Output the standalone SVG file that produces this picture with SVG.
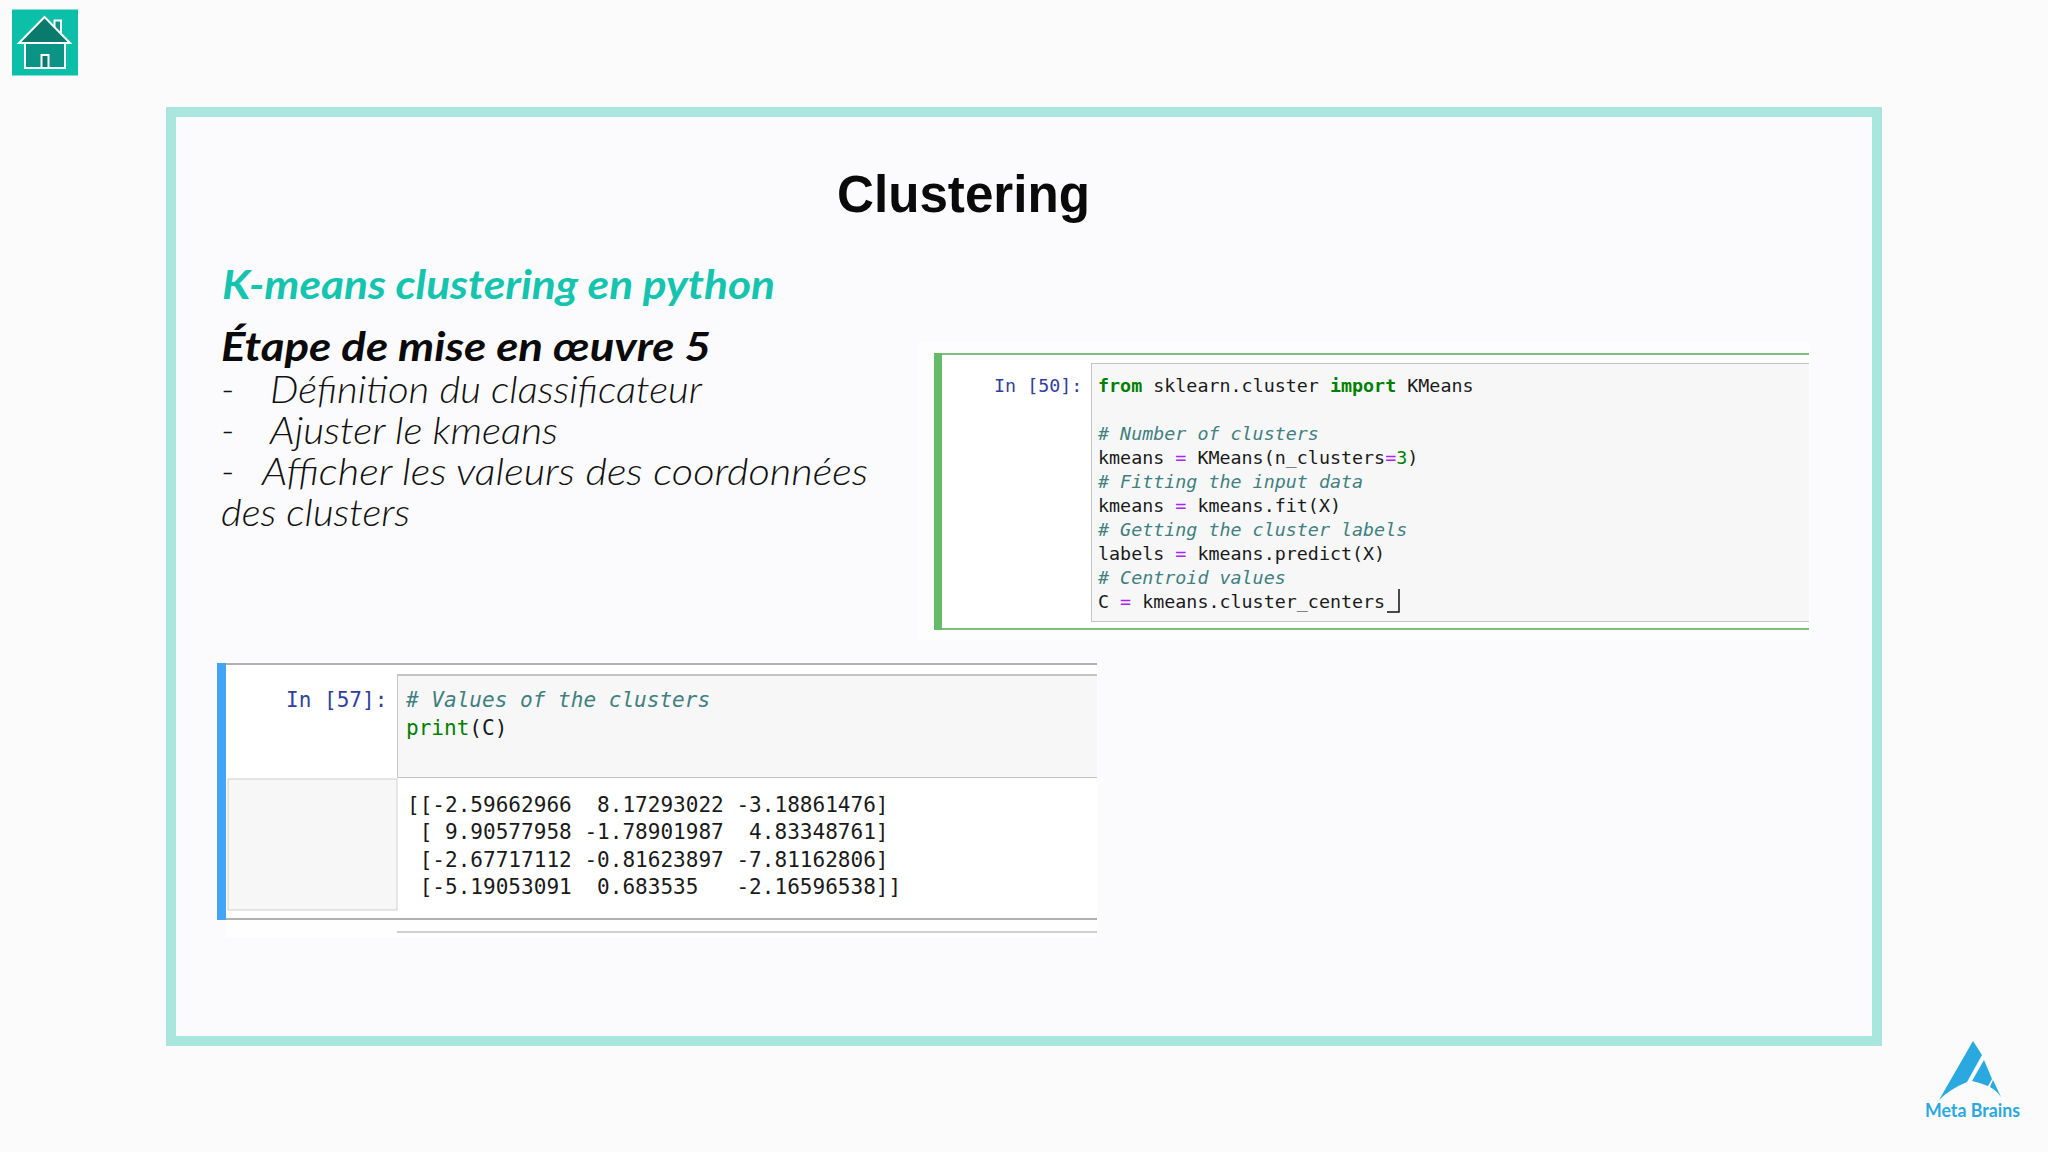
<svg xmlns="http://www.w3.org/2000/svg" width="2048" height="1152" viewBox="0 0 2048 1152">
<style>
text{white-space:pre}
.m{font-family:"DejaVu Sans Mono","Liberation Mono",monospace;fill:#1a1a1a}
.a{font-size:18.350px}
.b{font-size:21.050px}
.c{fill:#408080;font-style:italic}
.k{fill:#008000;font-weight:bold}
.o{fill:#aa22ff}
.n{fill:#008000}
.p{fill:#303f9f}
.g{font-family:Lato,"Open Sans",sans-serif;font-style:italic}
.l{font-size:38px;font-weight:300;fill:#111}
.w{fill:#fff}
.bx{fill:#f7f7f8}
.ln{fill:#c4c4c4}
</style>
<rect width="2048" height="1152" fill="#fbfbfc"/>
<g id="frame"><rect x="171" y="112" width="1706" height="929" fill="#fbfbfd" stroke="#a8e6de" stroke-width="10"/></g>
<g id="home">
<rect x="12" y="9.500" width="66" height="66" fill="#0bbfa8"/>
<rect x="25" y="43" width="40" height="25" fill="#0a9485" stroke="#fff" stroke-width="2"/>
<rect x="54.500" y="20.500" width="6.500" height="12" fill="#0a9485" stroke="#fff" stroke-width="2"/>
<path d="M44.500 17L70 43H19Z" fill="#0a7a6c" stroke="#fff" stroke-width="2"/>
<rect x="41.500" y="55" width="7" height="13" fill="#0a7a6c" stroke="#fff" stroke-width="2"/>
</g>
<g id="logo">
<path d="M1973 1041L1982 1055L1967 1082Q1950 1089 1939 1100Z" fill="#2aa8e0"/>
<path d="M1984 1060L1992 1079L1988 1086Q1981 1083 1972 1081Z" fill="#2aa8e0"/>
<path d="M1993 1080L2001 1097Q1997 1091 1990 1087Z" fill="#2aa8e0"/>
<text x="1925" y="1117" font-family="Lato,sans-serif" font-size="18" font-weight="700" fill="#2aa8e0" textLength="95" lengthAdjust="spacingAndGlyphs">Meta Brains</text>
</g>
<g id="title"><text x="837" y="212" font-family="Liberation Sans,sans-serif" font-size="51" font-weight="bold" fill="#0a0a0a" textLength="253" lengthAdjust="spacingAndGlyphs">Clustering</text></g>
<g id="body">
<text class="g" x="222" y="299" font-size="40" font-weight="700" fill="#14c4ae" textLength="553" lengthAdjust="spacingAndGlyphs">K-means clustering en python</text>
<text class="g" x="221" y="361" font-size="40" font-weight="700" fill="#0a0a0a" textLength="490" lengthAdjust="spacingAndGlyphs">Étape de mise en œuvre 5</text>
<text class="g l" x="221" y="403">-</text>
<text class="g l" x="270" y="403" textLength="432" lengthAdjust="spacingAndGlyphs">Définition du classificateur</text>
<text class="g l" x="221" y="444">-</text>
<text class="g l" x="270" y="444" textLength="288" lengthAdjust="spacingAndGlyphs">Ajuster le kmeans</text>
<text class="g l" x="221" y="485">-</text>
<text class="g l" x="262" y="485" textLength="606" lengthAdjust="spacingAndGlyphs">Afficher les valeurs des coordonnées</text>
<text class="g l" x="221" y="526" textLength="189" lengthAdjust="spacingAndGlyphs">des clusters</text>
</g>
<g id="cell-50">
<rect class="w" x="918" y="342" width="892" height="298" opacity="0.6"/>
<rect x="934" y="353" width="875" height="277" fill="#fff"/>
<rect x="934" y="353" width="875" height="2" fill="#7cc07e"/>
<rect x="934" y="628" width="875" height="2" fill="#7cc07e"/>
<rect x="934" y="353" width="8" height="277" fill="#66bb6a"/>
<rect class="bx" x="1091" y="363" width="718" height="259"/>
<rect class="ln" x="1091" y="363" width="718" height="1"/>
<rect class="ln" x="1091" y="621" width="718" height="1"/>
<rect class="ln" x="1091" y="363" width="1" height="259"/>
<text class="m a p" x="994" y="392">In [50]:</text>
<text class="m a" x="1098" y="392"><tspan class="k">from</tspan> sklearn.cluster <tspan class="k">import</tspan> KMeans</text>
<text class="m a c" x="1098" y="440"># Number of clusters</text>
<text class="m a" x="1098" y="464">kmeans <tspan class="o">=</tspan> KMeans(n_clusters<tspan class="o">=</tspan><tspan class="n">3</tspan>)</text>
<text class="m a c" x="1098" y="488"># Fitting the input data</text>
<text class="m a" x="1098" y="512">kmeans <tspan class="o">=</tspan> kmeans.fit(X)</text>
<text class="m a c" x="1098" y="536"># Getting the cluster labels</text>
<text class="m a" x="1098" y="560">labels <tspan class="o">=</tspan> kmeans.predict(X)</text>
<text class="m a c" x="1098" y="584"># Centroid values</text>
<text class="m a" x="1098" y="608">C <tspan class="o">=</tspan> kmeans.cluster_centers</text>
<path d="M1387 612H1399V589" fill="none" stroke="#111" stroke-width="1.500"/>
</g>
<g id="cell-57">
<rect class="w" x="226" y="662" width="872" height="275" opacity="0.8"/>
<rect x="226" y="665" width="871" height="254" fill="#fff"/>
<rect class="bx" x="397" y="675" width="700" height="102"/>
<rect class="ln" x="397" y="674" width="700" height="2"/>
<rect class="ln" x="397" y="777" width="700" height="1"/>
<rect class="ln" x="397" y="675" width="1" height="103"/>
<rect class="bx" x="228" y="779" width="169" height="131"/>
<rect x="228" y="779" width="169" height="131" fill="none" stroke="#d0d0d0" stroke-width="1"/>
<rect x="217" y="663" width="880" height="2" fill="#b0b0b0"/>
<rect x="217" y="918" width="880" height="2" fill="#b0b0b0"/>
<rect x="217" y="663" width="9" height="257" fill="#42a5f5"/>
<rect x="397" y="931" width="700" height="2" fill="#d0d0d0"/>
<text class="m b p" x="286" y="707">In [57]:</text>
<text class="m b c" x="406" y="707"># Values of the clusters</text>
<text class="m b" x="406" y="735"><tspan class="n">print</tspan>(C)</text>
<text class="m b" x="407" y="812">[[-2.59662966  8.17293022 -3.18861476]</text>
<text class="m b" x="407" y="839"> [ 9.90577958 -1.78901987  4.83348761]</text>
<text class="m b" x="407" y="867"> [-2.67717112 -0.81623897 -7.81162806]</text>
<text class="m b" x="407" y="894"> [-5.19053091  0.683535   -2.16596538]]</text>
</g>
</svg>
